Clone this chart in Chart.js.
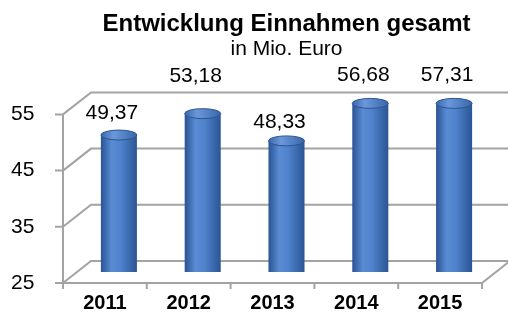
<!DOCTYPE html>
<html><head><meta charset="utf-8">
<script src="https://cdn.jsdelivr.net/npm/chart.js@4.4.0/dist/chart.umd.min.js"></script>
<style>html,body{margin:0;padding:0;background:#fff;}canvas{display:block;}</style>
</head><body>
<canvas id="c" width="508" height="314"></canvas>
<script>
const categories = ['2011', '2012', '2013', '2014', '2015'];
const einnahmen = [49.37, 53.18, 48.33, 56.68, 57.31];
const yTicks = [25, 35, 45, 55];

const DEPTH = { dx: 14, dy: 11 };
const FONT = "'Liberation Sans', Arial, sans-serif";
const BAR_PCT = 0.43;
const labelLift = [22, 37, 19, 28, 28];
const GRID = '#a3a3a3';

function fmt(v) { return v.toFixed(2).replace('.', ','); }

function makeGrad(c, cx, w, light) {
  const g = c.createLinearGradient(cx - w / 2, 0, cx + w / 2, 0);
  if (light) {
    g.addColorStop(0, '#3a68ab'); g.addColorStop(0.35, '#6a98da'); g.addColorStop(1, '#3a66a8');
  } else {
    g.addColorStop(0, '#2a5393'); g.addColorStop(0.3, '#5a8cd4'); g.addColorStop(0.55, '#4f82cc'); g.addColorStop(1, '#2b5595');
  }
  return g;
}

function barGradient(ctx) {
  const chart = ctx.chart; const ca = chart.chartArea;
  if (!ca) return '#4a7cc4';
  const cx = chart.scales.x.getPixelForValue(ctx.dataIndex);
  const w = ca.width / categories.length * BAR_PCT;
  return makeGrad(chart.ctx, cx, w, false);
}

const frame3d = {
  id: 'frame3d',
  beforeDatasetsDraw(chart) {
    const { ctx, chartArea: ca, scales: { y } } = chart;
    const { dx, dy } = DEPTH;
    const fl = ca.left - dx, fr = ca.right - dx, bl = ca.left + dx, br = ca.right + dx;
    ctx.save();
    ctx.strokeStyle = GRID; ctx.lineWidth = 2;
    yTicks.forEach(v => {
      const py = y.getPixelForValue(v);
      ctx.beginPath();
      ctx.moveTo(fl, py + dy); ctx.lineTo(bl, py - dy); ctx.lineTo(br, py - dy);
      ctx.stroke();
    });
    const yb = y.getPixelForValue(yTicks[0]);
    const yt = y.getPixelForValue(yTicks[yTicks.length - 1]);
    ctx.beginPath();
    ctx.moveTo(fl, yt + dy); ctx.lineTo(fl, yb + dy); ctx.lineTo(fr, yb + dy); ctx.lineTo(br, yb - dy);
    ctx.stroke();
    ctx.beginPath();
    yTicks.forEach(v => { const py = y.getPixelForValue(v) + dy; ctx.moveTo(fl - 8, py); ctx.lineTo(fl, py); });
    const n = categories.length;
    for (let k = 0; k <= n; k++) {
      const xx = fl + k * (ca.width / n);
      ctx.moveTo(xx, yb + dy); ctx.lineTo(xx, yb + dy + 6);
    }
    ctx.stroke();
    ctx.restore();
  },
  afterDatasetsDraw(chart) {
    const { ctx, chartArea: ca } = chart;
    const meta = chart.getDatasetMeta(0);
    ctx.save();
    meta.data.forEach((el, i) => {
      const rx = el.width / 2, ry = 5;
      const topY = Math.max(el.y, ca.top);
      ctx.beginPath();
      ctx.ellipse(el.x, el.base, rx, ry, 0, 0, Math.PI);
      ctx.fillStyle = makeGrad(ctx, el.x, el.width, false);
      ctx.fill();
      ctx.beginPath();
      ctx.ellipse(el.x, topY, rx, ry, 0, 0, Math.PI * 2);
      ctx.fillStyle = makeGrad(ctx, el.x, el.width, true);
      ctx.fill();
      ctx.strokeStyle = '#2c5592'; ctx.lineWidth = 1;
      ctx.stroke();
      ctx.fillStyle = '#000';
      ctx.font = '21px ' + FONT;
      ctx.textAlign = 'center'; ctx.textBaseline = 'middle';
      ctx.fillText(fmt(einnahmen[i]), el.x - 7, topY - labelLift[i]);
    });
    ctx.restore();
  }
};

new Chart(document.getElementById('c'), {
  type: 'bar',
  data: {
    labels: categories,
    datasets: [{
      data: einnahmen,
      backgroundColor: barGradient,
      borderWidth: 0,
      barPercentage: BAR_PCT,
      categoryPercentage: 1,
      clip: 0
    }]
  },
  options: {
    responsive: false,
    animation: false,
    devicePixelRatio: 1,
    layout: { padding: { left: 11, right: 12, top: 0, bottom: 0 } },
    plugins: {
      legend: { display: false },
      tooltip: { enabled: false },
      title: {
        display: true, fullSize: false, text: 'Entwicklung Einnahmen gesamt', color: '#000',
        font: { family: FONT, size: 24, weight: 'bold' }, padding: { top: 10, bottom: 0 }
      },
      subtitle: {
        display: true, fullSize: false, text: 'in Mio. Euro', color: '#000',
        font: { family: FONT, size: 21, lineHeight: 1.0 }, padding: { top: 0, bottom: 43.6 }
      }
    },
    scales: {
      x: {
        grid: { display: false, drawTicks: false }, border: { display: false },
        ticks: { font: { family: FONT, size: 20, weight: 'bold' }, color: '#000', labelOffset: -DEPTH.dx, padding: 19, maxRotation: 0 },
        afterFit(s) { s.height = 42; }
      },
      y: {
        min: 25, max: 55,
        grid: { display: false, drawTicks: false }, border: { display: false },
        ticks: { stepSize: 10, font: { family: FONT, size: 21 }, color: '#000', labelOffset: DEPTH.dy, padding: 0, crossAlign: 'far' },
        afterFit(s) { s.width = 66; }
      }
    }
  },
  plugins: [frame3d]
});
</script>
</body></html>
